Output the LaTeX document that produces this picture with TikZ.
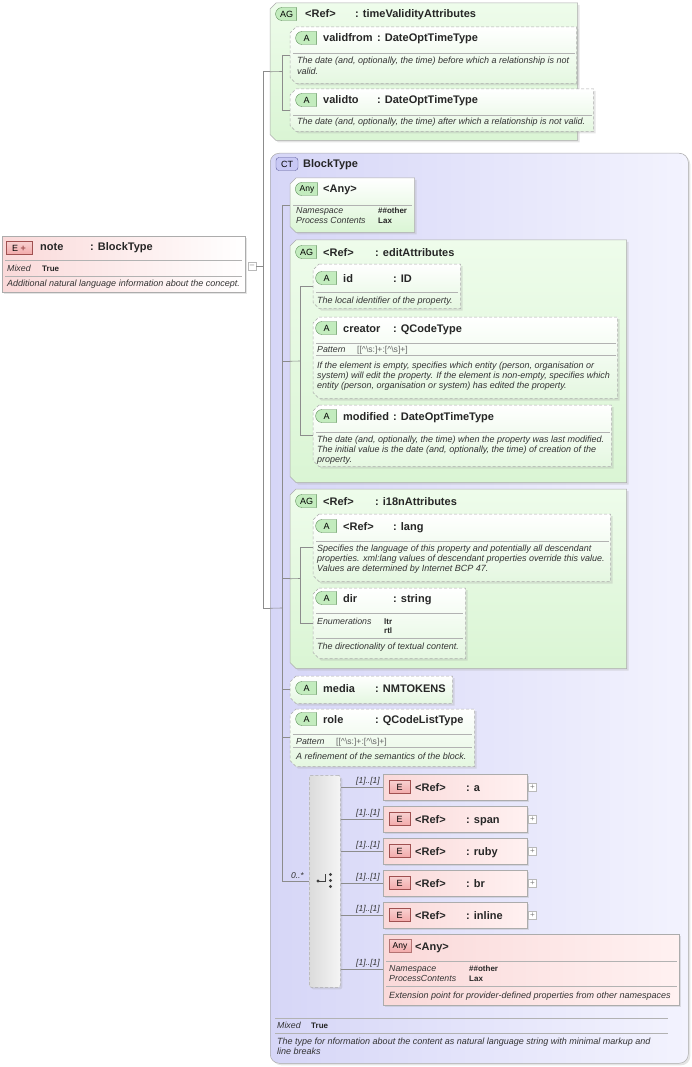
\documentclass[tikz,border=0pt]{standalone}
\usepackage{fontspec}
\setmainfont{Liberation Sans}
\usetikzlibrary{shapes.misc,shadows,positioning}

\definecolor{agtop}{HTML}{EEFCEB}
\definecolor{agbot}{HTML}{DAF5D4}
\definecolor{atbot}{HTML}{E4F7E0}
\definecolor{ctleft}{HTML}{D6D6F7}
\definecolor{ctright}{HTML}{F3F3FE}
\definecolor{elleft}{HTML}{FAD9D9}
\definecolor{elright}{HTML}{FFF1F1}
\definecolor{icgreen}{HTML}{C3ECBE}
\definecolor{icgreenline}{HTML}{5E8F5A}
\definecolor{icblue}{HTML}{C8C8F4}
\definecolor{icblueline}{HTML}{5A5A9A}
\definecolor{icred}{HTML}{F2AAAA}
\definecolor{icredline}{HTML}{A05050}
\definecolor{lnk}{HTML}{8C8C8C}

% box with cut corners on the left side
\newcommand{\chambox}[2][]{%
  \path[#1] ([xshift=6pt]#2.north west) -- (#2.north east) -- (#2.south east)
    -- ([xshift=6pt]#2.south west) -- ([yshift=6pt]#2.south west)
    -- ([yshift=-6pt]#2.north west) -- cycle;}

\tikzset{
  box/.style={anchor=north west, inner sep=0, draw=gray!65, line width=0.5pt},
  shd/.style={drop shadow={shadow xshift=2pt, shadow yshift=-2pt, opacity=0.3, fill=gray!70}},
  grp/.style={box, draw=none},
  agfill/.style={draw=gray!65, line width=0.5pt, shd, top color=agtop, bottom color=agbot},
  atfill/.style={agfill, dash pattern=on 3pt off 2pt, top color=white, bottom color=atbot},
  elem/.style={box, shd, left color=elleft, right color=elright},
  ctype/.style={box, shd, rounded corners=9pt, left color=ctleft, right color=ctright},
  comp/.style={box, shd, dash pattern=on 3pt off 2pt, rounded corners=2pt, left color=gray!28, right color=gray!8},
  icA/.style={rounded rectangle, rounded rectangle right arc=none, draw=icgreenline, fill=icgreen, minimum width=21pt, minimum height=13pt, inner sep=0, font=\fontsize{9}{9}\selectfont},
  icE/.style={draw=icredline, top color=icred!55, bottom color=icred, minimum width=21pt, minimum height=13pt, inner sep=0, font=\fontsize{9}{9}\selectfont},
  icCT/.style={draw=icblueline, fill=icblue, rounded corners=3pt, minimum width=22pt, minimum height=13pt, inner sep=0, font=\fontsize{9}{9}\selectfont},
  hdr/.style={anchor=base west, inner sep=0, font=\fontsize{11}{13}\selectfont\bfseries, text=black!85},
  dsc/.style={anchor=base west, inner sep=0, align=left, font=\fontsize{9}{10.4}\selectfont\itshape, text=black!80},
  fld/.style={dsc, font=\fontsize{8.8}{10}\selectfont\itshape},
  fval/.style={anchor=base west, inner sep=0, align=left, font=\fontsize{8}{10}\selectfont\bfseries, text=black!85},
  pat/.style={anchor=base west, inner sep=0, font=\fontsize{8.6}{9}\selectfont, text=black!60},
  card/.style={anchor=south east, inner sep=0, font=\fontsize{8.5}{9}\selectfont\itshape, text=black!80},
  hline/.style={draw=gray!60, line width=0.5pt},
  link/.style={draw=lnk, line width=0.6pt},
  plus/.style={draw=gray!55, fill=white, minimum size=8pt, inner sep=0, font=\fontsize{8}{8}\selectfont, text=gray},
}

\begin{document}
\begin{tikzpicture}[x=1pt,y=-1pt]
\useasboundingbox (0,0) rectangle (692,1067);

% note element
\node[elem, right color=white, minimum width=243pt, minimum height=56pt] (note) at (2,236) {};
\node[icE, minimum width=26pt] (noteic) at (19,248) {E \textcolor{icredline}{\textbf{+}}};
\node[hdr] (notenm) at (40,251) {note};
\node[hdr] (notety) at (90,251) {: BlockType};
\draw[hline] (5,260) -- (242,260);
\node[fld] (notemx) at (7,271) {Mixed};
\node[fval] (notemv) at (42,271) {True};
\draw[hline] (5,276) -- (242,276);
\node[dsc] (notedc) at (7,286) {Additional natural language information about the concept.};
\node[plus] (notemin) at (252,266) {--};

% timeValidityAttributes
\node[grp, minimum width=307pt, minimum height=137pt] (tva) at (270,3) {};
\chambox[agfill]{tva}
\node[icA] (tvaic) at (286.5,14) {AG};
\node[hdr] (tvanm) at (305,18) {<Ref>};
\node[hdr] (tvaty) at (355,18) {: timeValidityAttributes};

\node[grp, minimum width=286pt, minimum height=56pt] (vfrom) at (290,27) {};
\chambox[atfill]{vfrom}
\node[icA] (vfromic) at (306.5,38) {A};
\node[hdr] (vfromnm) at (323,42) {validfrom};
\node[hdr] (vfromty) at (377,42) {: DateOptTimeType};
\draw[hline] (293,53) -- (575,53);
\node[dsc] (vfromdc) at (297,74.4) {The date (and, optionally, the time) before which a relationship is not\\valid.};

\node[grp, minimum width=303pt, minimum height=42pt] (vto) at (290,89) {};
\chambox[atfill]{vto}
\node[icA] (vtoic) at (306.5,100) {A};
\node[hdr] (vtonm) at (323,104) {validto};
\node[hdr] (vtoty) at (377,104) {: DateOptTimeType};
\draw[hline] (293,115) -- (592,115);
\node[dsc] (vtodc) at (297,125) {The date (and, optionally, the time) after which a relationship is not valid.};

% BlockType
\node[ctype, minimum width=418pt, minimum height=910pt] (ct) at (270,153) {};
\node[icCT] (ctic) at (287,164) {CT};
\node[hdr] (ctnm) at (303,168) {BlockType};
\draw[hline] (275,1018) -- (668,1018);
\node[fld] (ctmx) at (277,1028) {Mixed};
\node[fval] (ctmv) at (311,1028) {True};
\draw[hline] (275,1033) -- (668,1033);
\node[dsc] (ctdc) at (277,1054.4) {The type for nformation about the content as natural language string with minimal markup and\\line breaks};

% any attribute
\node[grp, minimum width=124pt, minimum height=54pt] (anyA) at (290,178) {};
\chambox[agfill, top color=white, bottom color=agbot]{anyA}
\node[icA, minimum width=22pt, font=\fontsize{8.5}{9}\selectfont] (anyAic) at (307,189) {Any};
\node[hdr] (anyAnm) at (323,193) {<Any>};
\draw[hline] (293,205) -- (412,205);
\node[fld] (anyAfl) at (296,224) {Namespace\\Process Contents};
\node[fval] (anyAvl) at (378,224) {\#\#other\\Lax};

% editAttributes
\node[grp, minimum width=336pt, minimum height=242pt] (edit) at (290,240) {};
\chambox[agfill]{edit}
\node[icA] (editic) at (306.5,252) {AG};
\node[hdr] (editnm) at (323,256) {<Ref>};
\node[hdr] (editty) at (375,256) {: editAttributes};

\node[grp, minimum width=147pt, minimum height=44pt] (id) at (313,264) {};
\chambox[atfill]{id}
\node[icA] (idic) at (326.5,278) {A};
\node[hdr] (idnm) at (343,282) {id};
\node[hdr] (idty) at (393,282) {: ID};
\draw[hline] (316,292) -- (458,292);
\node[dsc] (iddc) at (317,303) {The local identifier of the property.};

\node[grp, minimum width=304pt, minimum height=81pt] (creator) at (313,317) {};
\chambox[atfill]{creator}
\node[icA] (creatoric) at (326.5,328) {A};
\node[hdr] (creatornm) at (343,332) {creator};
\node[hdr] (creatorty) at (393,332) {: QCodeType};
\draw[hline] (316,343) -- (616,343);
\node[fld] (creatorpl) at (317,352) {Pattern};
\node[pat] (creatorpv) at (357,352) {[[\textasciicircum\textbackslash s:]+:[\textasciicircum\textbackslash s]+]};
\draw[hline] (316,355) -- (616,355);
\node[dsc] (creatordc) at (317,388.8) {If the element is empty, specifies which entity (person, organisation or\\system) will edit the property. If the element is non-empty, specifies which\\entity (person, organisation or system) has edited the property.};

\node[grp, minimum width=298pt, minimum height=61pt] (modf) at (313,405) {};
\chambox[atfill]{modf}
\node[icA] (modfic) at (326.5,416) {A};
\node[hdr] (modfnm) at (343,420) {modified};
\node[hdr] (modfty) at (393,420) {: DateOptTimeType};
\draw[hline] (316,432) -- (610,432);
\node[dsc] (modfdc) at (317,462.8) {The date (and, optionally, the time) when the property was last modified.\\The initial value is the date (and, optionally, the time) of creation of the\\property.};

% i18nAttributes
\node[grp, minimum width=336pt, minimum height=179pt] (i18n) at (290,489) {};
\chambox[agfill]{i18n}
\node[icA] (i18nic) at (306.5,501) {AG};
\node[hdr] (i18nnm) at (323,505) {<Ref>};
\node[hdr] (i18nty) at (375,505) {: i18nAttributes};

\node[grp, minimum width=297pt, minimum height=67pt] (lang) at (313,514) {};
\chambox[atfill]{lang}
\node[icA] (langic) at (326.5,526) {A};
\node[hdr] (langnm) at (343,530) {<Ref>};
\node[hdr] (langty) at (393,530) {: lang};
\draw[hline] (316,541) -- (609,541);
\node[dsc] (langdc) at (317,571.8) {Specifies the language of this property and potentially all descendant\\properties. xml:lang values of descendant properties override this value.\\Values are determined by Internet BCP 47.};

\node[grp, minimum width=152pt, minimum height=70pt] (dir) at (313,588) {};
\chambox[atfill]{dir}
\node[icA] (diric) at (326.5,598) {A};
\node[hdr] (dirnm) at (343,602) {dir};
\node[hdr] (dirty) at (393,602) {: string};
\draw[hline] (316,613) -- (463,613);
\node[fld] (dirfl) at (317,624) {Enumerations};
\node[fval, font=\fontsize{8}{9}\selectfont\bfseries] (dirvl) at (384,633) {ltr\\rtl};
\draw[hline] (316,638) -- (463,638);
\node[dsc] (dirdc) at (317,649) {The directionality of textual content.};

% media, role
\node[grp, minimum width=162pt, minimum height=27pt] (media) at (290,676) {};
\chambox[atfill]{media}
\node[icA] (mediaic) at (306.5,688) {A};
\node[hdr] (medianm) at (323,692) {media};
\node[hdr] (mediaty) at (375,692) {: NMTOKENS};

\node[grp, minimum width=184pt, minimum height=57pt] (role) at (290,709) {};
\chambox[atfill]{role}
\node[icA] (roleic) at (306.5,719) {A};
\node[hdr] (rolenm) at (323,723) {role};
\node[hdr] (rolety) at (375,723) {: QCodeListType};
\draw[hline] (293,734) -- (472,734);
\node[fld] (rolepl) at (296,744) {Pattern};
\node[pat] (rolepv) at (336,744) {[[\textasciicircum\textbackslash s:]+:[\textasciicircum\textbackslash s]+]};
\draw[hline] (293,747) -- (472,747);
\node[dsc] (roledc) at (296,759) {A refinement of the semantics of the block.};

% choice
\node[comp, minimum width=31pt, minimum height=212pt] (chc) at (309,775) {};
\fill[black!75] (318,881) circle (1.7pt);
\draw[black!75, line width=0.8pt] (318,881) -- (325,881) -- (325,874);
\fill[black!75] (330.5,874.5) circle (1.6pt) (330.5,880.5) circle (1.6pt) (330.5,886.5) circle (1.6pt);

\foreach \n/\y in {a/774, span/806, ruby/838, br/870, inline/902} {
  \node[elem, minimum width=144pt, minimum height=26pt] (e\n) at (383,\y) {};
  \node[icE] (e\n ic) at (399.5,\y+13) {E};
  \node[hdr] (e\n nm) at (415,\y+17) {<Ref>};
  \node[hdr] (e\n ty) at (466,\y+17) {: \n};
  \node[plus] (e\n pl) at ([xshift=5pt]e\n.east) {+};
}

\node[elem, minimum width=296pt, minimum height=71pt] (any) at (383,934) {};
\node[icE, minimum width=22pt, draw=icredline!80, font=\fontsize{8.5}{9}\selectfont] (anyic) at (400,946) {Any};
\node[hdr] (anynm) at (415,950) {<Any>};
\draw[hline] (386,961) -- (677,961);
\node[fld] (anyfl) at (389,981) {Namespace\\ProcessContents};
\node[fval] (anyvl) at (469,981) {\#\#other\\Lax};
\draw[hline] (386,986) -- (677,986);
\node[dsc] (anydc) at (389,998) {Extension point for provider-defined properties from other namespaces};

% connectors
\coordinate (nj) at (263,266);
\draw[link] (notemin.east) -- (nj);
\draw[link] (tva.west) -| (nj);
\draw[link] (ct.west) -| (nj);

\coordinate (tj) at (282,71.5);
\draw[link] (tva.west) -- (tj);
\draw[link] (vfrom.west) -| (tj);
\draw[link] (vto.west) -| (tj);

\coordinate (ctj) at (282,608);
\draw[link] (ct.west) -- (ctj);
\foreach \n in {anyA, edit, i18n, media, role, chc}
  \draw[link] (\n.west) -| (ctj);

\coordinate (ej) at (300,361);
\draw[link] (edit.west) -- (ej);
\draw[link] (id.west) -| (ej);
\draw[link] (modf.west) -| (ej);

\coordinate (ij) at (300,578.5);
\draw[link] (i18n.west) -- (ij);
\draw[link] (lang.west) -| (ij);
\draw[link] (dir.west) -| (ij);

\node[card] (chccard) at ([xshift=-5pt,yshift=2pt]chc.west) {0..*};
\foreach \n in {ea, espan, eruby, ebr, einline, any} {
  \draw[link] (chc.east |- \n.west) -- (\n.west);
  \node[card] (\n cd) at ([xshift=-3pt,yshift=2pt]\n.west) {[1]..[1]};
}

\end{tikzpicture}
\end{document}
